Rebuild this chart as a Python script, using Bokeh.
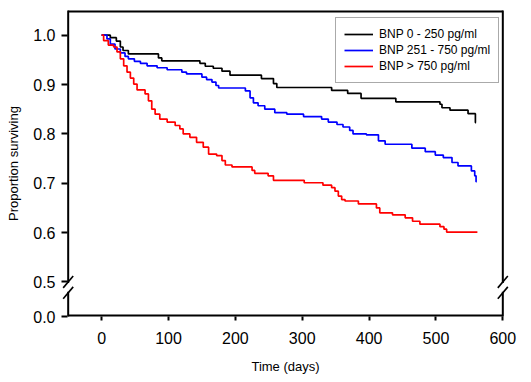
from bokeh.plotting import figure
from bokeh.models import FixedTicker, PrintfTickFormatter
from bokeh.embed import file_html
from bokeh.resources import INLINE

# ---------------- data ----------------
series_names = ["BNP 0 - 250 pg/ml", "BNP 251 - 750 pg/ml", "BNP > 750 pg/ml"]
series_colors = ["#000000", "#0000ff", "#ff0000"]

low_days = [0, 13, 22, 28, 32, 40, 85, 90, 147, 155, 167, 180, 192, 239, 257, 262,
            344, 368, 388, 440, 506, 509, 521, 548, 559, 560]
low_surv = [1.0, 0.995, 0.988, 0.976, 0.969, 0.962, 0.954, 0.948, 0.943, 0.937, 0.933,
            0.927, 0.919, 0.912, 0.902, 0.894, 0.888, 0.882, 0.872, 0.865, 0.860, 0.853,
            0.848, 0.841, 0.823, 0.823]

mid_days = [0, 8, 13, 20, 28, 35, 40, 49, 58, 68, 83, 98, 120, 127, 150, 157, 165, 171,
            175, 215, 222, 227, 234, 244, 259, 277, 302, 329, 339, 352, 361, 371, 376,
            396, 414, 424, 464, 484, 499, 511, 524, 533, 553, 558, 560, 561]
mid_surv = [1.0, 0.9925, 0.982, 0.972, 0.964, 0.957, 0.952, 0.947, 0.943, 0.938, 0.934,
            0.930, 0.925, 0.9215, 0.915, 0.910, 0.905, 0.898, 0.893, 0.887, 0.873, 0.863,
            0.857, 0.850, 0.843, 0.840, 0.835, 0.830, 0.824, 0.819, 0.814, 0.807, 0.800,
            0.798, 0.786, 0.779, 0.771, 0.764, 0.757, 0.752, 0.742, 0.735, 0.725, 0.715,
            0.703, 0.703]

high_days = [0, 3, 10, 18, 23, 28, 33, 38, 43, 48, 53, 65, 70, 75, 80, 87, 98, 110, 117,
             122, 132, 142, 152, 160, 172, 180, 185, 195, 225, 229, 249, 257, 303, 331,
             344, 349, 354, 359, 364, 384, 411, 416, 435, 454, 465, 476, 506, 512, 516, 562]
high_surv = [1.0, 0.989, 0.980, 0.976, 0.966, 0.952, 0.938, 0.925, 0.913, 0.901, 0.889,
             0.881, 0.867, 0.850, 0.840, 0.830, 0.824, 0.817, 0.810, 0.800, 0.793, 0.783,
             0.773, 0.759, 0.756, 0.746, 0.737, 0.733, 0.726, 0.720, 0.715, 0.706, 0.701,
             0.696, 0.691, 0.684, 0.674, 0.667, 0.664, 0.658, 0.650, 0.640, 0.636, 0.630,
             0.623, 0.617, 0.612, 0.607, 0.601, 0.601]

x_ticks = [0, 100, 200, 300, 400, 500, 600]
y_tick_values = [0.0, 0.5, 0.6, 0.7, 0.8, 0.9, 1.0]
y_tick_labels = ["0.0", "0.5", "0.6", "0.7", "0.8", "0.9", "1.0"]

x_title = "Time (days)"
y_title = "Proportion surviving"

# ---------------- broken y axis: 0.0 is drawn just below the break ----------------
Y_ZERO_POS = 0.43      # display position of the value 0.0
BREAK_HI = 0.5
BREAK_LO = 0.478
X_LEFT, X_RIGHT = -50, 600
Y_TOP = 1.05


def y_pos(v):
    return Y_ZERO_POS if v == 0.0 else v


FONT = "Liberation Sans"

p = figure(
    frame_width=448, frame_height=306,
    x_range=(-60, 610), y_range=(Y_ZERO_POS, Y_TOP),
    output_backend="svg", toolbar_location=None,
    min_border_left=61, min_border_top=10, min_border_right=14, min_border_bottom=20,
    background_fill_color="white", border_fill_color="white",
)
p.outline_line_color = None
p.xgrid.visible = False
p.ygrid.visible = False

# curves
for days, surv, name, col in [
    (low_days, low_surv, series_names[0], series_colors[0]),
    (mid_days, mid_surv, series_names[1], series_colors[1]),
    (high_days, high_surv, series_names[2], series_colors[2]),
]:
    p.step(days, [y_pos(s) for s in surv], mode="after", line_color=col,
           line_width=1.7, legend_label=name)

# frame box with axis-break gaps
p.segment(x0=[X_LEFT, X_LEFT, X_RIGHT, X_RIGHT],
          y0=[Y_ZERO_POS, BREAK_HI, Y_ZERO_POS, BREAK_HI],
          x1=[X_LEFT, X_LEFT, X_RIGHT, X_RIGHT],
          y1=[BREAK_LO, Y_TOP, BREAK_LO, Y_TOP],
          line_color="black", line_width=2, line_cap="square")
p.segment(x0=[X_LEFT, X_LEFT], y0=[Y_ZERO_POS, Y_TOP],
          x1=[X_RIGHT, X_RIGHT], y1=[Y_ZERO_POS, Y_TOP],
          line_color="black", line_width=4)
# break slashes
dx, dy = 7.5, 0.012
sx0, sy0, sx1, sy1 = [], [], [], []
for xc in (X_LEFT, X_RIGHT):
    for yc in (BREAK_HI, BREAK_LO):
        sx0.append(xc - dx); sy0.append(yc - dy)
        sx1.append(xc + dx); sy1.append(yc + dy)
p.segment(x0=sx0, y0=sy0, x1=sx1, y1=sy1, line_color="black", line_width=1.6)

# axes
xa = p.xaxis[0]
xa.ticker = FixedTicker(ticks=x_ticks)
xa.axis_line_color = None
xa.major_tick_line_width = 2
xa.major_tick_in = 0
xa.major_tick_out = 4
xa.minor_tick_line_color = None
xa.major_label_standoff = 11
xa.major_label_text_font = FONT
xa.major_label_text_font_size = "16px"
xa.major_label_text_color = "black"
xa.axis_label = x_title
xa.axis_label_text_font = FONT
xa.axis_label_text_font_size = "13px"
xa.axis_label_text_font_style = "normal"
xa.axis_label_text_color = "black"
xa.axis_label_standoff = 12

ya = p.yaxis[0]
y_pos_ticks = [y_pos(v) for v in y_tick_values]
ya.ticker = FixedTicker(ticks=y_pos_ticks)
ya.formatter = PrintfTickFormatter(format="%.1f")
ya.major_label_overrides = {pos: lab for pos, lab in zip(y_pos_ticks, y_tick_labels)}
ya.axis_line_color = None
ya.major_tick_line_width = 2
ya.major_tick_in = 6
ya.major_tick_out = 0
ya.minor_tick_line_color = None
ya.major_label_standoff = 6
ya.major_label_text_font = FONT
ya.major_label_text_font_size = "16px"
ya.major_label_text_color = "black"
ya.axis_label = y_title
ya.axis_label_text_font = FONT
ya.axis_label_text_font_size = "13px"
ya.axis_label_text_font_style = "normal"
ya.axis_label_text_color = "black"
ya.axis_label_standoff = 9

# legend
lg = p.legend[0]
lg.location = (274, 233)
lg.label_text_font = FONT
lg.label_text_font_size = "12px"
lg.label_text_color = "black"
lg.label_height = 16
lg.glyph_height = 16
lg.glyph_width = 29
lg.label_standoff = 6
lg.spacing = 0
lg.padding = 8
lg.margin = 0
lg.border_line_color = "#555555"
lg.border_line_width = 1
lg.background_fill_color = "white"
lg.background_fill_alpha = 1.0

open("out.html", "w").write(file_html(p, INLINE))
